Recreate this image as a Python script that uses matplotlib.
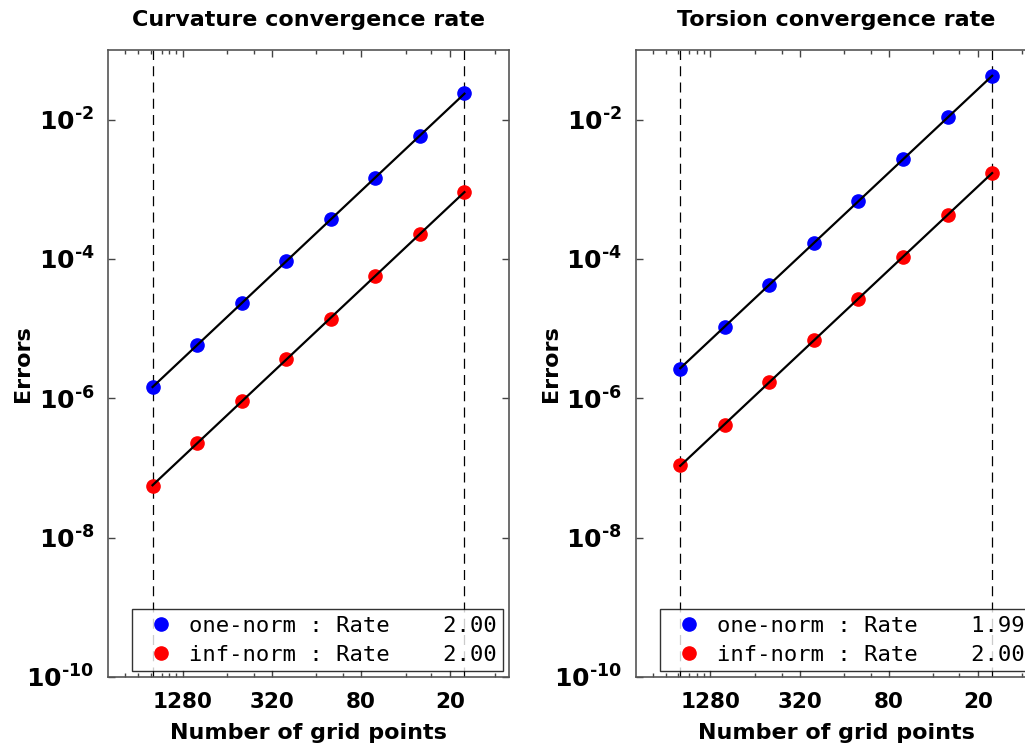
import numpy as np
import matplotlib
matplotlib.use("Agg")
import matplotlib.pyplot as plt
from matplotlib.lines import Line2D
from matplotlib.ticker import FixedLocator, FuncFormatter, NullFormatter

plt.rcParams['font.family'] = ['DejaVu Sans']
plt.rcParams['mathtext.fontset'] = 'custom'
plt.rcParams['mathtext.rm'] = 'DejaVu Sans:bold'
plt.rcParams['mathtext.it'] = 'DejaVu Sans:bold'
plt.rcParams['mathtext.bf'] = 'DejaVu Sans:bold'

# grid sizes and errors
grid_points = [2048, 1024, 512, 256, 128, 64, 32, 16]

curv_one = [1.44e-6, 5.86e-6, 2.34e-5, 9.27e-5, 3.7e-4, 1.46e-3, 5.89e-3, 2.38e-2]
curv_inf = [5.6e-8, 2.30e-7, 9.1e-7, 3.63e-6, 1.38e-5, 5.7e-5, 2.28e-4, 9.3e-4]
tors_one = [2.68e-6, 1.07e-5, 4.26e-5, 1.72e-4, 6.9e-4, 2.69e-3, 1.08e-2, 4.18e-2]
tors_inf = [1.1e-7, 4.2e-7, 1.69e-6, 6.8e-6, 2.7e-5, 1.07e-4, 4.33e-4, 1.72e-3]

curv_rates = [2.00, 2.00]
tors_rates = [1.99, 2.00]

titles = ['Curvature convergence rate', 'Torsion convergence rate']
norm_names = ['one-norm', 'inf-norm']
colors = ['#0000ff', '#ff0000']

x_major = [1280, 320, 80, 20]
x_minor = [3150, 2560, 2110, 1780, 1590, 1420, 640, 420, 160, 106, 40, 27, 10]
y_major = [1e-10, 1e-8, 1e-6, 1e-4, 1e-2]


def exp_fmt(v, pos):
    e = int(round(np.log10(v)))
    return r'$10^{\text{%d}}$' % e


fig = plt.figure(figsize=(10.25, 7.51), dpi=100)
W, H = 1025.0, 751.0
panels = [
    (108, titles[0], [curv_one, curv_inf], curv_rates),
    (635.7, titles[1], [tors_one, tors_inf], tors_rates),
]

x = np.array(grid_points, dtype=float)
for left, title, series, rates in panels:
    ax = fig.add_axes([left / W, 74 / H, 401 / W, 627 / H])
    ax.set_xscale('log')
    ax.set_yscale('log')

    for n in (grid_points[0], grid_points[-1]):
        ax.axvline(n, color='black', lw=0.9, ls=(0, (8, 5)), zorder=1)

    handles = []
    for err, c, name, r in zip(series, colors, norm_names, rates):
        y = np.array(err)
        ax.plot(x, y, 'o', color=c, ms=9.5, mec=c, zorder=3)
        # least-squares fit in log space
        p = np.polyfit(np.log(x), np.log(y), 1)
        ax.plot(x, np.exp(np.polyval(p, np.log(x))), color='black', lw=1.6, zorder=4)
        handles.append(Line2D([], [], marker='o', ls='none', color=c, ms=9.5))

    labels = ['%s : Rate %7.2f' % (nm, r) for nm, r in zip(norm_names, rates)]
    leg = ax.legend(handles, labels, loc='lower right', frameon=True, fancybox=False,
                    prop={'family': 'DejaVu Sans Mono', 'size': 16}, borderaxespad=0.25,
                    handletextpad=0.25, labelspacing=0.4, borderpad=0.3,
                    handlelength=2.0)
    leg.get_frame().set_edgecolor('black')
    leg.get_frame().set_linewidth(1.0)
    leg.set_zorder(10)

    ax.set_xlim(4096, 8)
    ax.set_ylim(1e-10, 1e-1)
    ax.xaxis.set_major_locator(FixedLocator(x_major))
    ax.xaxis.set_major_formatter(FuncFormatter(lambda v, p: '%d' % v))
    ax.xaxis.set_minor_locator(FixedLocator(x_minor))
    ax.xaxis.set_minor_formatter(NullFormatter())
    ax.yaxis.set_major_locator(FixedLocator(y_major))
    ax.yaxis.set_major_formatter(FuncFormatter(exp_fmt))
    ax.yaxis.set_minor_locator(FixedLocator([]))

    ax.tick_params(which='both', direction='in', top=True, right=True, color='#444444')
    ax.tick_params(which='major', length=5, width=1, pad=10.5, labelsize=15.5)
    ax.tick_params(which='minor', length=3, width=1)
    ax.tick_params(axis='y', which='major', pad=10, labelsize=18)
    for lbl in ax.get_xticklabels():
        lbl.set_fontweight('bold')
    for s in ax.spines.values():
        s.set_color('#555555')
        s.set_linewidth(1.2)

    ax.set_title(title, fontsize=16, fontweight='bold', pad=17)
    ax.set_xlabel('Number of grid points', fontsize=16, fontweight='bold', labelpad=8)
    ax.set_ylabel('Errors', fontsize=16, fontweight='bold')
    ax.yaxis.set_label_coords(-75 / 401, 0.5)

fig.savefig('out.png', dpi=100)
